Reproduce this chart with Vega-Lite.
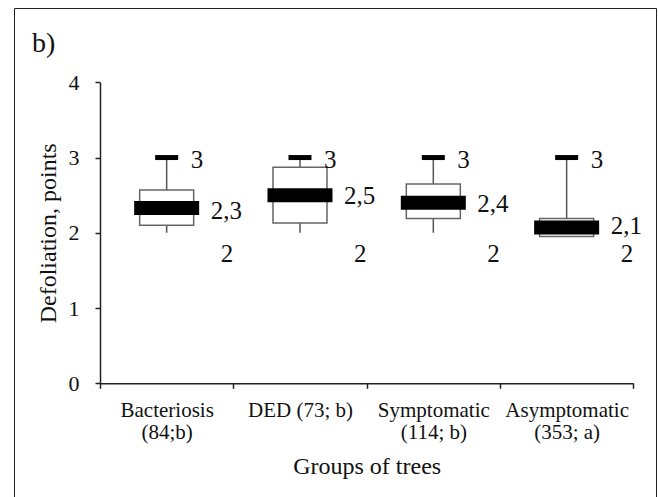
{
  "$schema": "https://vega.github.io/schema/vega-lite/v6.json",
  "autosize": {"type": "none"},
  "padding": {"left": 14, "top": 8, "right": 3, "bottom": 0},
  "width": 642,
  "height": 489,
  "background": "white",
  "title": {
    "text": "b)",
    "anchor": "start",
    "frame": "group",
    "font": "Liberation Serif",
    "fontSize": 28,
    "fontWeight": "normal",
    "color": "#111",
    "baseline": "alphabetic",
    "offset": -42,
    "dx": 18,
    "dy": 30
  },
  "data": {
    "values": [
      {"group": "Bacteriosis (84;b)", "min": 2, "q1": 2.1, "mean": 2.33, "q3": 2.57, "max": 3, "meanLabel": 2.3, "meanText": "2,3"},
      {"group": "DED (73; b)", "min": 2, "q1": 2.13, "mean": 2.5, "q3": 2.87, "max": 3, "meanLabel": 2.5, "meanText": "2,5"},
      {"group": "Symptomatic (114; b)", "min": 2, "q1": 2.19, "mean": 2.4, "q3": 2.65, "max": 3, "meanLabel": 2.4, "meanText": "2,4"},
      {"group": "Asymptomatic (353; a)", "min": 2, "q1": 1.95, "mean": 2.07, "q3": 2.19, "max": 3, "meanLabel": 2.1, "meanText": "2,1"}
    ]
  },
  "encoding": {
    "x": {
      "field": "group",
      "type": "nominal",
      "sort": null,
      "scale": {"type": "band", "range": [86, 619.3], "paddingInner": 0, "paddingOuter": 0},
      "axis": {
        "orient": "bottom",
        "offset": -113.7,
        "title": "Groups of trees",
        "titleFontSize": 24,
        "titleFont": "Liberation Serif",
        "titleFontWeight": "normal",
        "titleColor": "#111",
        "titleBaseline": "alphabetic",
        "titleY": 90,
        "labelAngle": 0,
        "labelFont": "Liberation Serif",
        "labelFontSize": 21,
        "labelColor": "#111",
        "labelLineHeight": 22,
        "labelPadding": 11,
        "labelExpr": "datum.label == 'DED (73; b)' ? datum.label : split(replace(datum.label, ' (', '|('), '|')",
        "tickBand": "extent",
        "tickSize": 5,
        "tickColor": "#222",
        "tickWidth": 1.5,
        "domainColor": "#222",
        "domainWidth": 1.5,
        "grid": false
      }
    }
  },
  "layer": [
    {
      "mark": {"type": "rule", "stroke": "#555", "strokeWidth": 1.5},
      "encoding": {
        "y": {
          "field": "min",
          "type": "quantitative",
          "scale": {"domain": [0, 4], "range": [375.3, 74.3], "nice": false},
          "axis": {
            "orient": "left",
            "offset": -86,
            "values": [0, 1, 2, 3, 4],
            "format": "d",
            "title": "Defoliation, points",
            "titleFont": "Liberation Serif",
            "titleFontSize": 24,
            "titleFontWeight": "normal",
            "titleColor": "#111",
            "titleBaseline": "alphabetic",
            "titleX": -45,
            "labelFont": "Liberation Serif",
            "labelFontSize": 22,
            "labelColor": "#111",
            "labelAlign": "right",
            "labelPadding": 16,
            "tickSize": 5,
            "tickColor": "#222",
            "tickWidth": 1.5,
            "domainColor": "#222",
            "domainWidth": 1.5,
            "grid": false
          }
        },
        "y2": {"field": "max"}
      }
    },
    {
      "mark": {"type": "bar", "width": 54, "fill": "white", "stroke": "#666", "strokeWidth": 1.5},
      "encoding": {
        "y": {"field": "q1", "type": "quantitative"},
        "y2": {"field": "q3"}
      }
    },
    {
      "mark": {"type": "tick", "size": 23, "thickness": 5, "color": "black", "opacity": 1},
      "encoding": {
        "y": {"field": "max", "type": "quantitative"}
      }
    },
    {
      "mark": {"type": "tick", "size": 65, "thickness": 14, "color": "black", "opacity": 1},
      "encoding": {
        "y": {"field": "mean", "type": "quantitative"}
      }
    },
    {
      "mark": {"type": "text", "align": "left", "baseline": "middle", "dx": 24, "dy": 2, "font": "Liberation Serif", "fontSize": 25, "color": "#111"},
      "encoding": {
        "y": {"field": "max", "type": "quantitative"},
        "text": {"field": "max", "type": "quantitative"}
      }
    },
    {
      "mark": {"type": "text", "align": "left", "baseline": "middle", "dx": 44, "dy": 1, "font": "Liberation Serif", "fontSize": 25, "color": "#111"},
      "encoding": {
        "y": {"field": "meanLabel", "type": "quantitative"},
        "text": {"field": "meanText", "type": "nominal"}
      }
    },
    {
      "mark": {"type": "text", "align": "left", "baseline": "middle", "dx": 54, "dy": 21, "font": "Liberation Serif", "fontSize": 25, "color": "#111"},
      "encoding": {
        "y": {"field": "min", "type": "quantitative"},
        "text": {"field": "min", "type": "quantitative"}
      }
    }
  ],
  "config": {
    "view": {"stroke": "#222", "strokeWidth": 1},
    "font": "Liberation Serif"
  }
}
